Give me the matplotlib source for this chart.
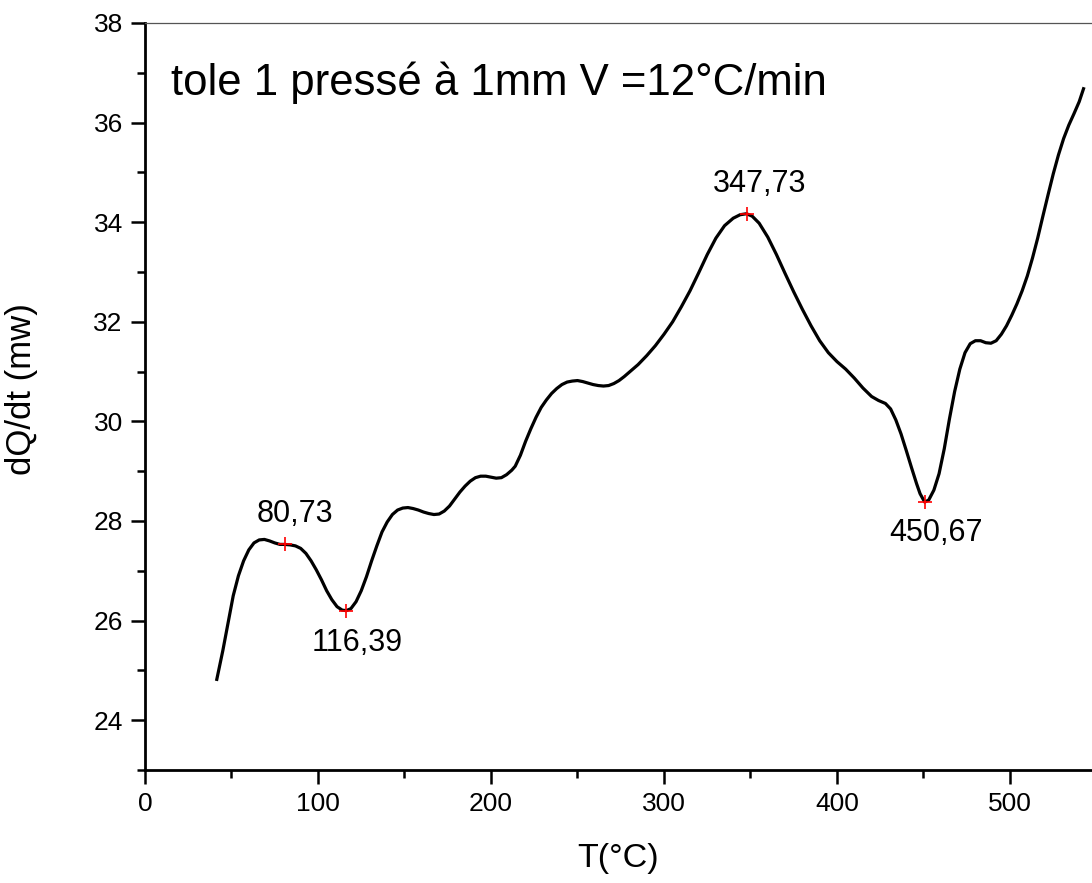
import numpy as np
import matplotlib
matplotlib.use('Agg')
import matplotlib.pyplot as plt
from matplotlib.ticker import MultipleLocator

plt.rcParams['font.family'] = ['Liberation Sans', 'DejaVu Sans']

# DSC trace, tole 1 pressed at 1 mm, heating rate 12 C/min
temp = [41.5, 45, 48, 51, 54, 57, 60, 63, 66, 69, 72, 75, 78, 80.73, 84, 87, 90,
        93, 96, 99, 102, 105, 108, 111, 114, 116.39, 119, 122, 125, 128, 131,
        134, 137, 140, 143, 146, 149, 152, 155, 158, 161, 164, 167, 170, 173,
        176, 179, 182, 185, 188, 191, 194, 197, 200, 203, 206, 209, 212, 214,
        217, 220, 223, 226, 229, 232, 235, 238, 241, 244, 247, 250, 253, 256,
        259, 262, 265, 268, 271, 274, 277, 280, 285, 290, 295, 300, 305, 310,
        315, 320, 325, 330, 335, 340, 344, 347.73, 351, 355, 360, 365, 370,
        375, 380, 385, 390, 395, 400, 405, 410, 415, 420, 424, 428, 431, 434,
        437, 440, 443, 446, 448, 450.67, 453, 456, 459, 462, 465, 468, 471,
        474, 477, 480, 483, 486, 489, 492, 495, 498, 501, 504, 507, 510, 513,
        516, 519, 522, 525, 528, 531, 534, 537, 540, 542.5]
dqdt = [24.82, 25.4, 25.95, 26.5, 26.9, 27.2, 27.42, 27.56, 27.62, 27.63, 27.6,
        27.56, 27.53, 27.53, 27.52, 27.5, 27.45, 27.35, 27.2, 27.02, 26.82,
        26.6, 26.42, 26.28, 26.21, 26.2, 26.24, 26.38, 26.6, 26.88, 27.2, 27.5,
        27.78, 27.98, 28.13, 28.22, 28.26, 28.27, 28.25, 28.22, 28.18, 28.15,
        28.13, 28.14, 28.2, 28.3, 28.44, 28.58, 28.7, 28.8, 28.87, 28.9, 28.9,
        28.88, 28.86, 28.87, 28.93, 29.02, 29.1, 29.32, 29.6, 29.85, 30.08,
        30.28, 30.43, 30.56, 30.66, 30.74, 30.79, 30.81, 30.82, 30.8, 30.77,
        30.74, 30.72, 30.71, 30.72, 30.76, 30.82, 30.9, 30.99, 31.14, 31.32,
        31.52, 31.75, 32.0, 32.3, 32.62, 32.98, 33.35, 33.68, 33.93, 34.08,
        34.15, 34.17, 34.12, 33.98, 33.7, 33.35, 32.97, 32.6, 32.25, 31.92,
        31.62, 31.38, 31.2, 31.05, 30.87, 30.67, 30.5, 30.42, 30.36, 30.25,
        30.03, 29.75, 29.42, 29.08, 28.75, 28.55, 28.38, 28.42, 28.62, 28.95,
        29.45, 30.05, 30.6, 31.05, 31.38, 31.56, 31.62, 31.62, 31.58, 31.57,
        31.62, 31.75, 31.92, 32.13, 32.36, 32.62, 32.92, 33.28, 33.68, 34.12,
        34.55, 34.97, 35.35, 35.68, 35.95, 36.18, 36.42, 36.68]

# picked extrema
peak_t = [80.73, 116.39, 347.73, 450.67]
peak_q = [27.53, 26.2, 34.17, 28.38]
peak_labels = ['80,73', '116,39', '347,73', '450,67']
# label anchor (x, y, vertical alignment)
label_x = [86.5, 122.5, 355, 457.5]
label_y = [27.98, 25.86, 34.6, 28.06]
label_va = ['baseline', 'top', 'baseline', 'top']

fig = plt.figure(figsize=(10.92, 8.83), dpi=100)
ax = fig.add_axes([145/1092, 1 - 770/883, 947/1092, 747/883])

ax.plot(temp, dqdt, color='black', lw=2.3)
ax.plot(peak_t, peak_q, '+', color='red', ms=10, mew=1.2)
for lx, ly, va, s in zip(label_x, label_y, label_va, peak_labels):
    ax.text(lx, ly, s, ha='center', va=va, fontsize=22)

ax.text(15, 36.55, 'tole 1 pressé à 1mm V =12°C/min', fontsize=31.5,
        ha='left', va='baseline')

ax.set_xlim(0, 547.4)
ax.set_ylim(23, 38)
ax.xaxis.set_major_locator(MultipleLocator(100))
ax.xaxis.set_minor_locator(MultipleLocator(50))
ax.yaxis.set_major_locator(plt.FixedLocator([24, 26, 28, 30, 32, 34, 36, 38]))
ax.yaxis.set_minor_locator(MultipleLocator(1))

ax.spines['right'].set_visible(False)
ax.spines['top'].set_linewidth(0.9)
ax.spines['top'].set_color('#555555')
ax.spines['left'].set_linewidth(2)
ax.spines['bottom'].set_linewidth(2)
ax.tick_params(which='major', direction='out', length=10, width=1.8,
               labelsize=19, pad=6, top=False, right=False)
ax.tick_params(which='minor', direction='out', length=5.5, width=1.8,
               top=False, right=False)

ax.set_xlabel('T(°C)', fontsize=24.5)
ax.set_ylabel('dQ/dt (mw)', fontsize=25)
ax.xaxis.set_label_coords(0.5, -0.098)
ax.yaxis.set_label_coords((38 - 145) / 947, 0.51)

fig.savefig('out.png', dpi=100)
